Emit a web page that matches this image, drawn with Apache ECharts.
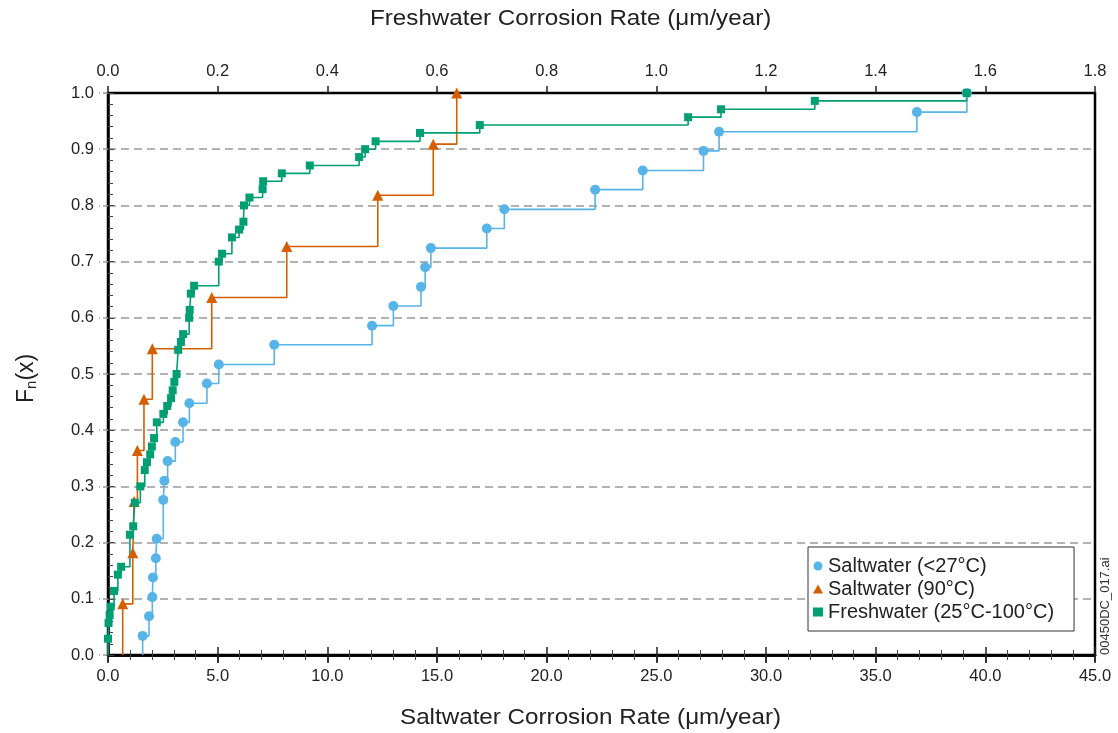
<!DOCTYPE html>
<html>
<head>
<meta charset="utf-8">
<script src="https://cdn.jsdelivr.net/npm/echarts@6/dist/echarts.min.js"></script>
<style>
  html, body { margin: 0; padding: 0; background: #fff; }
  #chart { width: 1118px; height: 733px; }
</style>
</head>
<body>
<div id="chart"></div>
<script>
  // saltwater < 27C, bottom axis (um/year)
  const coldX = [1.58, 1.87, 2.02, 2.05, 2.18, 2.22, 2.52, 2.57, 2.72, 3.07, 3.42, 3.71, 4.51, 5.05,
    7.58, 12.04, 13.01, 14.27, 14.46, 14.72, 17.27, 18.07, 22.21, 24.38, 27.15, 27.86, 36.88, 39.16];
  const coldF = [0.034, 0.069, 0.103, 0.138, 0.172, 0.207, 0.276, 0.310, 0.345, 0.379, 0.414, 0.448, 0.483, 0.517,
    0.552, 0.586, 0.621, 0.655, 0.690, 0.724, 0.759, 0.793, 0.828, 0.862, 0.897, 0.931, 0.966, 1.0];

  // saltwater 90C, bottom axis
  const hotX = [0.67, 1.13, 1.19, 1.34, 1.64, 2.02, 4.73, 8.15, 12.30, 14.83, 15.90];
  const hotF = [0.091, 0.182, 0.273, 0.364, 0.455, 0.545, 0.636, 0.727, 0.818, 0.909, 1.0];

  // freshwater 25-100C, top axis
  const freshX = [0.0, 0.001, 0.003, 0.005, 0.011, 0.018, 0.024, 0.040, 0.046, 0.049, 0.059, 0.067, 0.071,
    0.077, 0.080, 0.084, 0.089, 0.101, 0.108, 0.115, 0.118, 0.121, 0.125, 0.128, 0.133, 0.137, 0.148,
    0.149, 0.151, 0.157, 0.202, 0.208, 0.226, 0.239, 0.247, 0.248, 0.258, 0.282, 0.283, 0.317, 0.368,
    0.458, 0.469, 0.488, 0.569, 0.678, 1.058, 1.118, 1.289, 1.566];
  const freshF = [0.029, 0.057, 0.071, 0.086, 0.114, 0.143, 0.157, 0.214, 0.229, 0.271, 0.300, 0.329, 0.343,
    0.357, 0.371, 0.386, 0.414, 0.429, 0.443, 0.457, 0.471, 0.486, 0.500, 0.543, 0.557, 0.571, 0.600,
    0.614, 0.643, 0.657, 0.700, 0.714, 0.743, 0.757, 0.771, 0.800, 0.814, 0.829, 0.843, 0.857, 0.871,
    0.886, 0.900, 0.914, 0.929, 0.943, 0.957, 0.971, 0.986, 1.0];

  const seriesNames = ['Saltwater (<27°C)', 'Saltwater (90°C)', 'Freshwater (25°C-100°C)'];
  const colors = ['#56B4E9', '#D55E00', '#009E73'];

  const font = 'Liberation Sans, Arial, sans-serif';

  // ecdf steps start from zero at the first value
  const stepData = (xs, fs) => {
    const out = [{ value: [xs[0], 0], symbol: 'none' }];
    xs.forEach((x, i) => out.push([x, fs[i]]));
    return out;
  };

  const myChart = echarts.init(document.getElementById('chart'));

  const tickLabel = {
    color: '#222',
    fontSize: 16.5,
    fontFamily: font,
    formatter: (v) => v.toFixed(1),
  };

  myChart.setOption({
    animation: false,
    grid: {
      left: 108,
      right: 23,
      top: 93,
      bottom: 78,
      show: true,
      borderColor: '#000',
      borderWidth: 2.5,
    },
    legend: {
      orient: 'vertical',
      left: 808,
      top: 547,
      padding: [9, 20, 9, 5],
      itemGap: 3,
      itemWidth: 10,
      itemHeight: 9,
      borderColor: '#333',
      borderWidth: 1,
      backgroundColor: '#fff',
      textStyle: { color: '#222', fontSize: 20, fontFamily: font },
      data: [
        { name: seriesNames[0], icon: 'circle' },
        { name: seriesNames[1], icon: 'triangle' },
        { name: seriesNames[2], icon: 'rect' },
      ],
    },
    xAxis: [
      {
        type: 'value',
        position: 'bottom',
        min: 0,
        max: 45,
        interval: 5,
        axisLine: { lineStyle: { color: '#000', width: 2.5 } },
        axisTick: { inside: true, length: 8, lineStyle: { color: '#222', width: 1.5 } },
        minorTick: { show: true, splitNumber: 5, length: 5, lineStyle: { color: '#444' } },
        axisLabel: Object.assign({ margin: 13 }, tickLabel),
        splitLine: { show: false },
      },
      {
        type: 'value',
        position: 'top',
        min: 0,
        max: 1.8,
        interval: 0.2,
        axisLine: { lineStyle: { color: '#000', width: 2.5 } },
        axisTick: { inside: true, length: 8, lineStyle: { color: '#222', width: 1.5 } },
        minorTick: { show: true, splitNumber: 5, length: 5, lineStyle: { color: '#444' } },
        axisLabel: Object.assign({ margin: 13 }, tickLabel),
        splitLine: { show: false },
      },
      {
        type: 'value',
        position: 'bottom',
        min: 0,
        max: 45,
        interval: 5,
        axisLine: { show: false },
        axisTick: { length: 7, lineStyle: { color: '#222', width: 1.5 } },
        axisLabel: { show: false },
        splitLine: { show: false },
      },
      {
        type: 'value',
        position: 'top',
        min: 0,
        max: 1.8,
        interval: 0.2,
        axisLine: { show: false },
        axisTick: { length: 7, lineStyle: { color: '#222', width: 1.5 } },
        axisLabel: { show: false },
        splitLine: { show: false },
      },
    ],
    yAxis: [
      {
        type: 'value',
        min: 0,
        max: 1,
        interval: 0.1,
        axisLine: { lineStyle: { color: '#000', width: 2.5 } },
        axisTick: { inside: true, length: 6, lineStyle: { color: '#444' } },
        minorTick: { show: true, splitNumber: 5, length: 5, lineStyle: { color: '#444' } },
        axisLabel: Object.assign({ margin: 14 }, tickLabel),
        splitLine: {
          showMinLine: false,
          showMaxLine: false,
          lineStyle: { color: '#999', type: [8, 5], width: 1.5 },
        },
      },
      {
        type: 'value',
        position: 'left',
        min: 0,
        max: 1,
        interval: 0.1,
        axisLine: { show: false },
        axisTick: { length: 9, lineStyle: { color: '#999', type: [5, 3], width: 1.5 } },
        axisLabel: { show: false },
        splitLine: { show: false },
      },
    ],
    series: [
      {
        name: seriesNames[0],
        type: 'line',
        step: 'end',
        xAxisIndex: 0,
        data: stepData(coldX, coldF),
        symbol: 'circle',
        symbolSize: 10,
        color: colors[0],
        lineStyle: { width: 1.6 },
      },
      {
        name: seriesNames[1],
        type: 'line',
        step: 'end',
        xAxisIndex: 0,
        data: stepData(hotX, hotF),
        symbol: 'triangle',
        symbolSize: 11,
        color: colors[1],
        lineStyle: { width: 1.6 },
      },
      {
        name: seriesNames[2],
        type: 'line',
        step: 'end',
        xAxisIndex: 1,
        data: stepData(freshX, freshF),
        symbol: 'rect',
        symbolSize: 8,
        color: colors[2],
        lineStyle: { width: 1.6 },
      },
    ],
    graphic: [
      {
        type: 'text',
        left: 370,
        top: 8,
        style: { text: 'Freshwater Corrosion Rate (μm/year)', fontSize: 22, fontFamily: font, fill: '#222' },
        scaleX: 1.1,
      },
      {
        type: 'text',
        left: 400,
        top: 707,
        style: { text: 'Saltwater Corrosion Rate (μm/year)', fontSize: 22, fontFamily: font, fill: '#222' },
        scaleX: 1.1,
      },
      {
        type: 'text',
        x: 14,
        y: 403,
        rotation: Math.PI / 2,
        style: {
          text: '{a|F}{b|n}{a|(x)}',
          fill: '#222',
          rich: {
            a: { fontSize: 23, fontFamily: font, fill: '#222' },
            b: { fontSize: 15, fontFamily: font, fill: '#222', padding: [10, 0, 0, 0] },
          },
        },
      },
      {
        type: 'text',
        x: 1099,
        y: 655,
        rotation: Math.PI / 2,
        style: { text: '00450DC_017.ai', fontSize: 13, fontFamily: font, fill: '#333' },
      },
    ],
  });

  window.addEventListener('resize', function () {
    myChart && myChart.resize();
  });
</script>
</body>
</html>
